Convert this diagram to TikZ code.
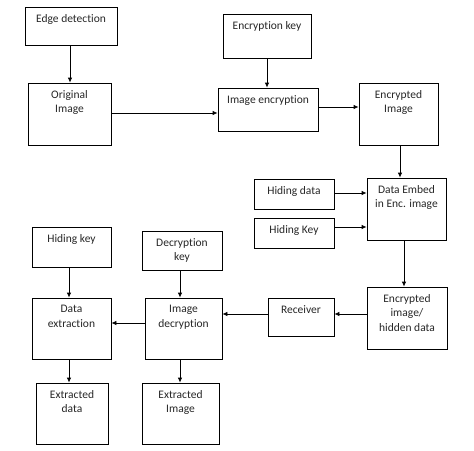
\documentclass[tikz,border=0pt]{standalone}
\usepackage{fontspec}
\setmainfont[Ligatures=NoCommon]{Carlito}
\usetikzlibrary{arrows.meta}
\tikzstyle{blk}=[rectangle,draw=black,line width=0.8pt,inner sep=0pt]
\tikzstyle{lbl}=[anchor=north,align=center,inner sep=0pt,yshift=-7.5pt,text=black!85,font=\fontsize{11.5}{14.5}\selectfont]
\tikzstyle{arr}=[line width=0.8pt,-{Latex[length=5pt,width=4.5pt]}]

\begin{document}
\begin{tikzpicture}[x=1pt,y=-1pt]
			\useasboundingbox (0,0) rectangle (474,450);
			% encryption side
			\node (edge) at (71,26) [blk,minimum width=92pt,minimum height=38pt,label={[lbl]north:Edge detection}] {};
			\node (orig) at (69.5,114) [blk,minimum width=83pt,minimum height=62pt,label={[lbl]north:Original\\Image}] {};
			\node (enckey) at (267,36) [blk,minimum width=88pt,minimum height=44pt,label={[lbl]north:Encryption key}] {};
			\node (imgenc) at (268,109.5) [blk,minimum width=100pt,minimum height=43pt,label={[lbl]north:Image encryption}] {};
			\node (encimg) at (398.5,114) [blk,minimum width=79pt,minimum height=62pt,label={[lbl]north:Encrypted\\Image}] {};
			% embedding
			\node (hdata) at (294,194) [blk,minimum width=80pt,minimum height=30pt,label={[lbl]north:Hiding data}] {};
			\node (hkey) at (294,233) [blk,minimum width=80pt,minimum height=30pt,label={[lbl]north:Hiding Key}] {};
			\node (embed) at (406.5,209) [blk,minimum width=79pt,minimum height=62pt,label={[lbl]north:Data Embed\\in Enc. image}] {};
			\node (enchid) at (407,318) [blk,minimum width=80pt,minimum height=62pt,label={[lbl]north:Encrypted\\image/\\hidden data}] {};
			\node (recv) at (301,317) [blk,minimum width=66pt,minimum height=38pt,label={[lbl]north:Receiver}] {};
			% decryption side
			\node (deckey) at (182,250.5) [blk,minimum width=80pt,minimum height=39pt,label={[lbl]north:Decryption\\key}] {};
			\node (imgdec) at (183.5,328.5) [blk,minimum width=77pt,minimum height=61pt,label={[lbl]north:Image\\decryption}] {};
			\node (hidkey) at (71.5,247) [blk,minimum width=79pt,minimum height=40pt,label={[lbl]north:Hiding key}] {};
			\node (dext) at (71.5,328.5) [blk,minimum width=79pt,minimum height=61pt,label={[lbl]north:Data\\extraction}] {};
			\node (exdata) at (72,413.5) [blk,minimum width=72pt,minimum height=61pt,label={[lbl]north:Extracted\\data}] {};
			\node (eximg) at (180.5,413.5) [blk,minimum width=77pt,minimum height=61pt,label={[lbl]north:Extracted\\Image}] {};
			% arrows
			\draw[arr] ([xshift=-1pt]edge.south) -- ([xshift=-1pt]edge.south |- orig.north);
			\draw[arr] ([yshift=1pt]orig.east) -- ([yshift=1pt]orig.east -| imgenc.west);
			\draw[arr] (enckey.south) -- (enckey.south |- imgenc.north);
			\draw[arr] ([yshift=2.5pt]imgenc.east) -- ([yshift=2.5pt]imgenc.east -| encimg.west);
			\draw[arr] ([xshift=1.5pt]encimg.south) -- ([xshift=1.5pt]encimg.south |- embed.north);
			\draw[arr] ([yshift=1pt]hdata.east) -- ([yshift=1pt]hdata.east -| embed.west);
			\draw[arr] ([yshift=6pt]hkey.east) -- ([yshift=6pt]hkey.east -| embed.west);
			\draw[arr] ([xshift=-2.5pt]embed.south) -- ([xshift=-2.5pt]embed.south |- enchid.north);
			\draw[arr] ([yshift=4pt]enchid.west) -- ([yshift=4pt]enchid.west -| recv.east);
			\draw[arr] ([yshift=3pt]recv.west) -- ([yshift=3pt]recv.west -| imgdec.east);
			\draw[arr] ([yshift=5.5pt]imgdec.west) -- ([yshift=5.5pt]imgdec.west -| dext.east);
			\draw[arr] ([xshift=-2.5pt]hidkey.south) -- ([xshift=-2.5pt]hidkey.south |- dext.north);
			\draw[arr] ([xshift=-2pt]deckey.south) -- ([xshift=-2pt]deckey.south |- imgdec.north);
			\draw[arr] ([xshift=-2.5pt]dext.south) -- ([xshift=-2.5pt]dext.south |- exdata.north);
			\draw[arr] ([xshift=-3.5pt]imgdec.south) -- ([xshift=-3.5pt]imgdec.south |- eximg.north);
\end{tikzpicture}
\end{document}
